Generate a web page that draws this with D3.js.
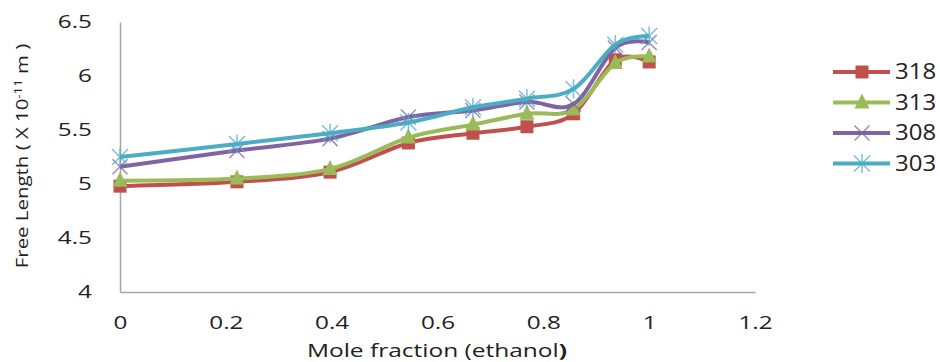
<!DOCTYPE html>
<html>
<head>
<meta charset="utf-8">
<script src="https://cdn.jsdelivr.net/npm/d3@7"></script>
<style>
  body { margin: 0; background: #fff; }
  text { font-family: "Open Sans", sans-serif; fill: #222; }
</style>
</head>
<body>
<div id="chart"></div>
<script>
// mole fraction of ethanol
var moleFraction = [0, 0.221, 0.397, 0.545, 0.667, 0.769, 0.857, 0.936, 1];
// free length (x 10^-11 m) at each temperature
var t318 = [4.98, 5.02, 5.11, 5.38, 5.47, 5.53, 5.65, 6.15, 6.13];
var t313 = [5.03, 5.05, 5.14, 5.43, 5.55, 5.65, 5.69, 6.12, 6.18];
var t308 = [5.16, 5.31, 5.42, 5.62, 5.68, 5.76, 5.74, 6.26, 6.31];
var t303 = [5.25, 5.37, 5.47, 5.57, 5.71, 5.79, 5.88, 6.29, 6.37];
var seriesNames = ["318", "313", "308", "303"];
var xTicks = [0, 0.2, 0.4, 0.6, 0.8, 1, 1.2];
var yTicks = [4, 4.5, 5, 5.5, 6, 6.5];

var series = [
    {name: seriesNames[0], values: t318, color: "#C0504D", marker: "square"},
    {name: seriesNames[1], values: t313, color: "#9BBB59", marker: "triangle"},
    {name: seriesNames[2], values: t308, color: "#8064A2", marker: "cross"},
    {name: seriesNames[3], values: t303, color: "#4BACC6", marker: "star"}
];

var W = 940, H = 362;
var margin = {top: 22, left: 120, right: 185, bottom: 70};
var w = W - margin.left - margin.right;
var h = H - margin.top - margin.bottom;

var svg = d3.select("#chart").append("svg")
    .attr("width", W)
    .attr("height", H);

var g = svg.append("g")
    .attr("transform", "translate(" + margin.left + "," + margin.top + ")");

var x = d3.scaleLinear().domain([0, 1.2]).range([0, w]);
var y = d3.scaleLinear().domain([4, 6.5]).range([h, 0]);

// the original text is drawn wide, so stretch it sideways
function stretch(sel, k) {
    sel.each(function() {
        var len = this.getComputedTextLength();
        d3.select(this).attr("textLength", len * k).attr("lengthAdjust", "spacingAndGlyphs");
    });
}

// axes, no tick marks, grey lines
var xAxis = g.append("g")
    .attr("transform", "translate(0," + h + ")")
    .call(d3.axisBottom(x).tickValues(xTicks).tickSize(0).tickPadding(24)
        .tickFormat(d => d3.format("")(+d.toFixed(1))));
var yAxis = g.append("g")
    .call(d3.axisLeft(y).tickValues(yTicks).tickSize(0).tickPadding(28)
        .tickFormat(d => d3.format("")(d)));
[xAxis, yAxis].forEach(function(a) {
    a.select(".domain").attr("stroke", "#A6A6A6").attr("stroke-width", 1.5);
    a.selectAll("text").style("font-size", "18px").attr("fill", "#222")
        .style("font-family", "'Open Sans', sans-serif")
        .call(stretch, 1.35);
});

// marker shapes
function markerPath(type, s) {
    if (type === "square") return "M" + (-s/2) + "," + (-s/2) + "h" + s + "v" + s + "h" + (-s) + "Z";
    if (type === "triangle") return "M0," + (-s*0.6) + "L" + (s/2) + "," + (s*0.4) + "L" + (-s/2) + "," + (s*0.4) + "Z";
    if (type === "cross") return "M" + (-s/2) + "," + (-s/2) + "L" + (s/2) + "," + (s/2) + "M" + (s/2) + "," + (-s/2) + "L" + (-s/2) + "," + (s/2);
    return "M" + (-s/2) + "," + (-s/2) + "L" + (s/2) + "," + (s/2) + "M" + (s/2) + "," + (-s/2) + "L" + (-s/2) + "," + (s/2) + "M0," + (-s*0.6) + "V" + (s*0.6);
}
var markerSize = {square: 13, triangle: 15, cross: 15, star: 16};
function drawMarker(sel, s) {
    var filled = s.marker === "square" || s.marker === "triangle";
    sel.append("path")
        .attr("d", markerPath(s.marker, markerSize[s.marker]))
        .attr("fill", filled ? s.color : "none")
        .attr("stroke", s.color)
        .attr("stroke-opacity", filled ? 1 : 0.75)
        .attr("stroke-width", filled ? 0 : 1.5);
}

var line = d3.line()
    .x(d => x(d[0]))
    .y(d => y(d[1]))
    .curve(d3.curveCardinal.tension(0));

series.forEach(function(s) {
    var pts = moleFraction.map((m, i) => [m, s.values[i]]);
    var sg = g.append("g");
    sg.append("path")
        .datum(pts)
        .attr("d", line)
        .attr("fill", "none")
        .attr("stroke", s.color)
        .attr("stroke-width", 4);
    sg.selectAll(".pt").data(pts).enter().append("g")
        .attr("transform", d => "translate(" + x(d[0]) + "," + y(d[1]) + ")")
        .each(function() { drawMarker(d3.select(this), s); });
});

// axis titles
var xl = svg.append("text")
    .attr("x", 437).attr("y", 357)
    .attr("text-anchor", "middle")
    .style("font-size", "18px");
xl.append("tspan").text("Mole fraction (ethanol");
xl.append("tspan").style("font-weight", "bold").text(")");
xl.call(stretch, 1.36);

var yl = svg.append("text")
    .attr("transform", "translate(28,156) rotate(-90)")
    .attr("text-anchor", "middle")
    .style("font-size", "17px");
yl.append("tspan").text("Free Length ( X 10");
yl.append("tspan").attr("dy", -6).style("font-size", "11px").text("-11");
yl.append("tspan").attr("dy", 6).text(" m )");
yl.call(stretch, 1.2);

// legend
var legend = svg.append("g").attr("transform", "translate(833,72)");
series.forEach(function(s, i) {
    var lg = legend.append("g").attr("transform", "translate(0," + (i * 30.5) + ")");
    lg.append("line").attr("x1", 0).attr("x2", 57)
        .attr("stroke", s.color).attr("stroke-width", 4);
    var m = lg.append("g").attr("transform", "translate(29,0)");
    drawMarker(m, s);
    lg.append("text").attr("x", 62).attr("dy", "0.35em")
        .style("font-size", "21px").text(s.name)
        .call(stretch, 1.14);
});
</script>
</body>
</html>
